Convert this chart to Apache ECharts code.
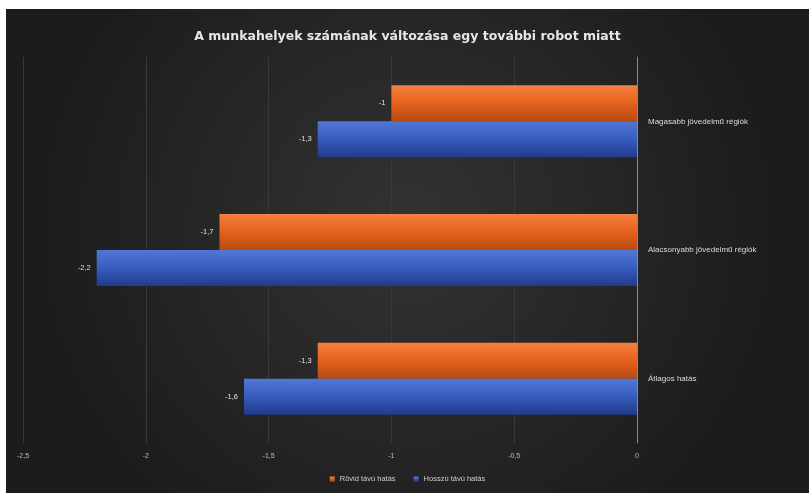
<!DOCTYPE html>
<html>
<head>
<meta charset="utf-8">
<script src="https://cdn.jsdelivr.net/npm/echarts@6/dist/echarts.min.js"></script>
<style>
  html, body { margin: 0; padding: 0; background: #1c1c1c; overflow: hidden; }
  body { border-top: 9px solid #ffffff; border-left: 6px solid #ffffff; }
  #chart { width: 803px; height: 484px; }
</style>
</head>
<body>
<div id="chart"></div>
<script>
// Categories listed bottom-to-top (category y axis starts at the bottom)
const categories = ['Átlagos hatás', 'Alacsonyabb jövedelmű régiók', 'Magasabb jövedelmű régiók'];
const shortTerm = [-1.3, -1.7, -1.0];   // Rövid távú hatás
const longTerm  = [-1.6, -2.2, -1.3];   // Hosszú távú hatás
const seriesNames = ['Rövid távú hatás', 'Hosszú távú hatás'];
const titleText = 'A munkahelyek számának változása egy további robot miatt';

const fmt = v => String(v).replace('.', ',');

function barGradient(top, mid, bottom) {
  return new echarts.graphic.LinearGradient(0, 0, 0, 1, [
    { offset: 0, color: top },
    { offset: 0.45, color: mid },
    { offset: 1, color: bottom }
  ]);
}

const labelStyle = {
  show: true,
  position: 'left',
  distance: 6,
  color: '#e0e0e0',
  fontSize: 7.5,
  fontFamily: 'Liberation Sans',
  formatter: p => fmt(p.value)
};

const chart = echarts.init(document.getElementById('chart'));
chart.setOption({
  backgroundColor: new echarts.graphic.RadialGradient(0.5, 0.45, 0.75, [
    { offset: 0, color: '#333333' },
    { offset: 1, color: '#1c1c1c' }
  ]),
  title: {
    text: titleText,
    left: 'center',
    top: 16,
    textStyle: { color: '#e6e6e6', fontSize: 12.5, fontWeight: 'bold', fontFamily: 'DejaVu Sans' }
  },
  legend: {
    data: seriesNames,
    bottom: 5,
    left: 'center',
    itemWidth: 5,
    itemHeight: 5,
    itemGap: 18,
    icon: 'rect',
    textStyle: { color: '#cfcfcf', fontSize: 7.5, fontFamily: 'Liberation Sans' }
  },
  grid: { left: 17, right: 172, top: 48, bottom: 50, containLabel: false },
  xAxis: {
    type: 'value',
    min: -2.5,
    max: 0,
    interval: 0.5,
    axisLine: { show: false },
    axisTick: { show: false },
    splitLine: { show: true, lineStyle: { color: '#393939', width: 1 } },
    axisLabel: { color: '#bdbdbd', fontSize: 7, margin: 10, formatter: v => fmt(v) }
  },
  yAxis: {
    type: 'category',
    data: categories,
    position: 'right',
    axisLine: { show: true, onZero: false, lineStyle: { color: '#8a8a8a', width: 1 } },
    axisTick: { show: false },
    axisLabel: { color: '#dcdcdc', fontSize: 8, margin: 11, fontFamily: 'Liberation Sans', align: 'left' }
  },
  series: [
    {
      name: seriesNames[0],
      type: 'bar',
      data: shortTerm,
      barGap: '0%',
      barCategoryGap: '44%',
      itemStyle: { color: barGradient('#f3813f', '#e8641e', '#b84a12') },
      label: labelStyle,
      z: 2
    },
    {
      name: seriesNames[1],
      type: 'bar',
      data: longTerm,
      barGap: '0%',
      barCategoryGap: '44%',
      itemStyle: { color: barGradient('#5277d6', '#3a5fc0', '#1f3b8c') },
      label: labelStyle,
      z: 2
    }
  ]
});
</script>
</body>
</html>
